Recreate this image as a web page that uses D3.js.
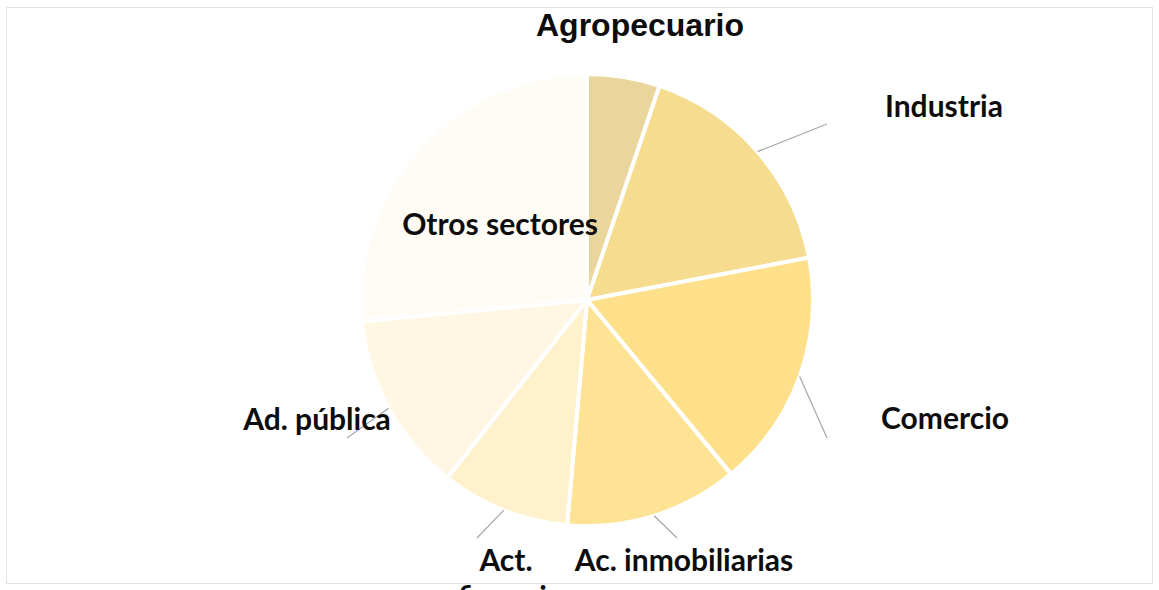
<!DOCTYPE html>
<html>
<head>
<meta charset="utf-8">
<script src="https://cdn.jsdelivr.net/npm/d3@7"></script>
<style>
  html, body { margin: 0; padding: 0; background: #ffffff; }
  svg { display: block; }
</style>
</head>
<body>
<svg id="chart" width="1159" height="590"></svg>
<script>
// ---- data ----
const categories = ["Agropecuario", "Industria", "Comercio", "Ac. inmobiliarias", "Act. financieras", "Ad. pública", "Otros sectores"];
const shares = [5.2, 16.8, 17.0, 12.4, 9.2, 12.9, 26.5];
const labelLines = [["Agropecuario"], ["Industria"], ["Comercio"], ["Ac. inmobiliarias"], ["Act.", "financieras"], ["Ad. pública"], ["Otros sectores"]];
const colors = ["#EAD59C", "#F6DC8F", "#FEE08B", "#FEE394", "#FFF1CB", "#FFF7E3", "#FFFCF5"];

// ---- layout (not data) ----
const W = 1159, H = 590;
const cx = 587, cy = 300, R = 226;
const labelLayout = [
  { dx: 53,   dy: -264, leader: null, font: "title" },
  { dx: 357,  dy: -183, leader: [240, -176] },
  { dx: 358,  dy: 129,  leader: [240, 138] },
  { dx: 97,   dy: 271,  leader: [90, 238] },
  { dx: -81,  dy: 271,  leader: [-110, 238], second: { dx: -57, dy: 308 } },
  { dx: -270, dy: 130,  leader: [-240, 138] },
  { dx: -87,  dy: -65,  leader: null }
];

const svg = d3.select("#chart");

svg.append("rect")
  .attr("x", 6.5).attr("y", 7.5)
  .attr("width", W - 13).attr("height", H - 14)
  .attr("fill", "#ffffff")
  .attr("stroke", "#e2e2e2").attr("stroke-width", 1);

const pie = d3.pie().sort(null).value(d => d).startAngle(0).endAngle(2 * Math.PI);
const arcs = pie(shares);
const arc = d3.arc().innerRadius(0).outerRadius(R);
const color = d3.scaleOrdinal().domain(categories).range(colors);

const defs = svg.append("defs");
categories.forEach((c, i) => {
  const base = d3.color(color(c));
  const light = d3.interpolateRgb(base, "#ffffff")(0.18);
  const g = defs.append("radialGradient")
    .attr("id", "grad" + i)
    .attr("gradientUnits", "userSpaceOnUse")
    .attr("cx", cx - 80).attr("cy", cy - 100).attr("r", R * 1.7);
  g.append("stop").attr("offset", "0%").attr("stop-color", light);
  g.append("stop").attr("offset", "70%").attr("stop-color", base);
});

const gPie = svg.append("g").attr("transform", `translate(${cx},${cy})`);
gPie.selectAll("path.slice")
  .data(arcs)
  .join("path")
  .attr("class", "slice")
  .attr("d", arc)
  .attr("fill", (d, i) => `url(#grad${i})`)
  .attr("stroke", "#ffffff")
  .attr("stroke-width", 4)
  .attr("stroke-linejoin", "round");

gPie.selectAll("line.leader")
  .data(arcs.filter((d, i) => labelLayout[i].leader))
  .join("line")
  .attr("class", "leader")
  .attr("x1", d => { const a = (d.startAngle + d.endAngle) / 2; return Math.sin(a) * R; })
  .attr("y1", d => { const a = (d.startAngle + d.endAngle) / 2; return -Math.cos(a) * R; })
  .attr("x2", d => labelLayout[d.index].leader[0])
  .attr("y2", d => labelLayout[d.index].leader[1])
  .attr("stroke", "#a6a6a6")
  .attr("stroke-width", 1.2);

const labelFont = "Lato, 'Open Sans', sans-serif";
arcs.forEach((d, i) => {
  const L = labelLayout[i];
  const isTitle = L.font === "title";
  gPie.append("text")
    .attr("x", L.dx).attr("y", L.dy)
    .attr("text-anchor", "middle")
    .attr("font-family", isTitle ? "'Liberation Sans', Arial, sans-serif" : labelFont)
    .attr("font-weight", "bold")
    .attr("font-size", isTitle ? 32 : 30)
    .attr("fill", "#0d0d0d")
    .text(labelLines[i][0]);
  if (L.second && labelLines[i][1]) {
    gPie.append("text")
      .attr("x", L.second.dx).attr("y", L.second.dy)
      .attr("text-anchor", "middle")
      .attr("font-family", labelFont)
      .attr("font-weight", "bold")
      .attr("font-size", 30)
      .attr("fill", "#0d0d0d")
      .text(labelLines[i][1]);
  }
});
</script>
</body>
</html>
